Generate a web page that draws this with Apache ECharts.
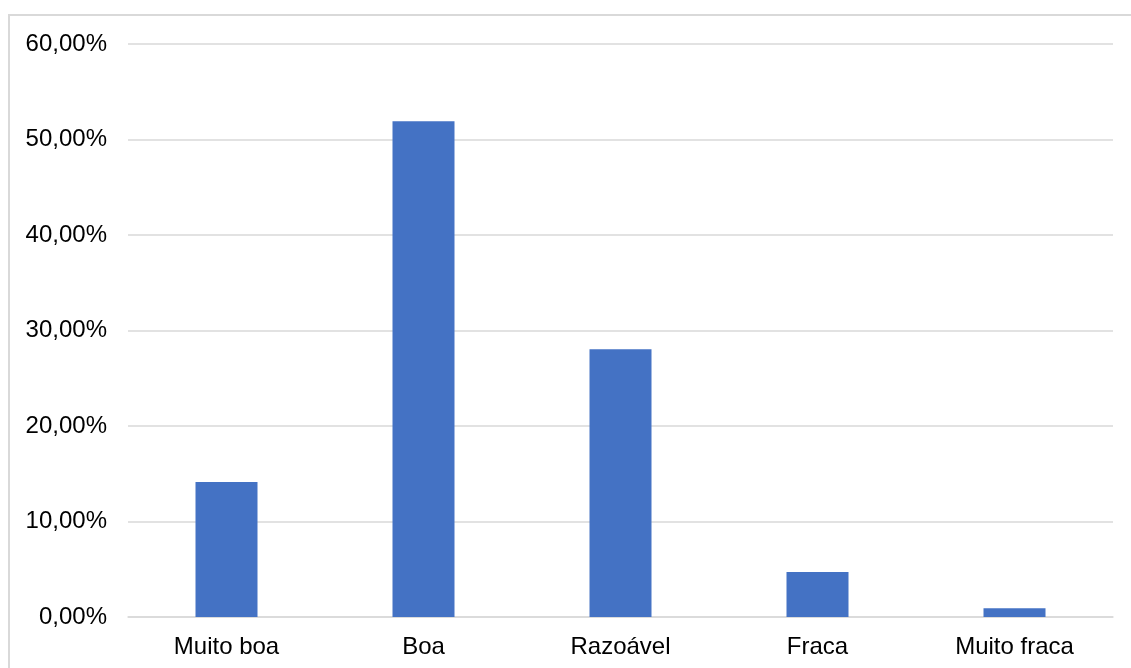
<!DOCTYPE html>
<html>
<head>
<meta charset="utf-8">
<script src="https://cdn.jsdelivr.net/npm/echarts@6/dist/echarts.min.js"></script>
<style>
  html, body { margin: 0; padding: 0; background: #ffffff; }
  #chart { width: 1131px; height: 668px; }
</style>
</head>
<body>
<div id="chart"></div>
<script>
// Avaliação por categoria (percentagem de respostas)
const categories = ['Muito boa', 'Boa', 'Razoável', 'Fraca', 'Muito fraca'];
const percentages = [14.14, 51.9, 28.03, 4.71, 0.91];
const yTicks = { min: 0, max: 60, interval: 10 };

const fmtPct = v => v.toFixed(2).replace('.', ',') + '%';

const chart = echarts.init(document.getElementById('chart'), null, { renderer: 'canvas' });
chart.setOption({
  backgroundColor: '#ffffff',
  animation: false,
  textStyle: { fontFamily: 'Liberation Sans, Arial, sans-serif' },
  graphic: [{
    type: 'rect',
    silent: true,
    shape: { x: 9, y: 15, width: 1140, height: 670 },
    style: { fill: 'none', stroke: '#d9d9d9', lineWidth: 2 }
  }],
  grid: { left: 128, right: 18, top: 44, bottom: 51, containLabel: false },
  xAxis: {
    type: 'category',
    data: categories,
    axisLine: { show: true, lineStyle: { color: '#d9d9d9', width: 1.5 } },
    axisTick: { show: false },
    axisLabel: { color: '#000000', fontSize: 24, margin: 18, interval: 0 }
  },
  yAxis: {
    type: 'value',
    min: yTicks.min,
    max: yTicks.max,
    interval: yTicks.interval,
    axisLine: { show: false },
    axisTick: { show: false },
    splitLine: { lineStyle: { color: '#d9d9d9', width: 1.5 } },
    axisLabel: { color: '#000000', fontSize: 24, margin: 21, padding: [4, 0, 0, 0], formatter: fmtPct }
  },
  series: [{
    type: 'bar',
    data: percentages,
    barWidth: 62,
    itemStyle: { color: '#4472c4' }
  }]
});
</script>
</body>
</html>
